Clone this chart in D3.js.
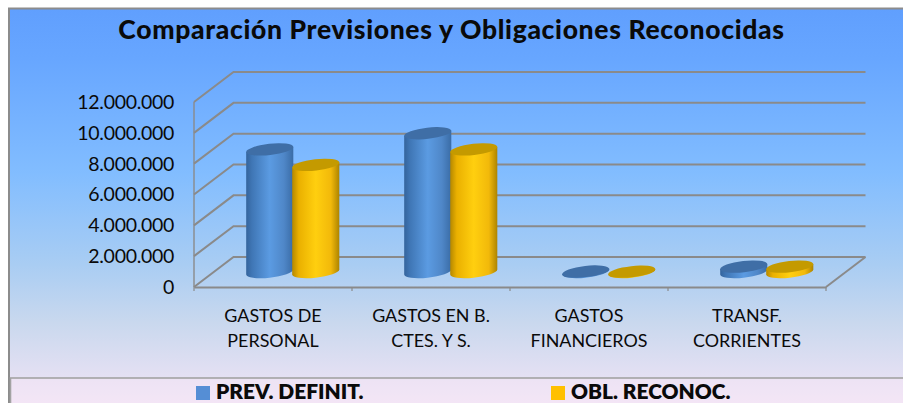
<!DOCTYPE html>
<html>
<head>
<meta charset="utf-8">
<script src="https://cdnjs.cloudflare.com/ajax/libs/d3/7.8.5/d3.min.js"></script>
<style>
  html, body { margin: 0; padding: 0; background: #fff; overflow: hidden; }
  svg { display: block; }
  text { font-family: Lato, "Open Sans", sans-serif; fill: #0a0a0a; }
</style>
</head>
<body>
<div id="chart"></div>
<script>
const categories = ["GASTOS DE\nPERSONAL", "GASTOS EN B.\nCTES. Y S.", "GASTOS\nFINANCIEROS", "TRANSF.\nCORRIENTES"];
const seriesNames = ["PREV. DEFINIT.", "OBL. RECONOC."];
const prevDefinit = [7950000, 9000000, 30000, 350000];
const oblReconoc = [6950000, 7950000, 20000, 350000];
const yTicks = [0, 2000000, 4000000, 6000000, 8000000, 10000000, 12000000];

const width = 903;
const height = 403;
const depth = { x: 39.5, y: -30 };

const svg = d3.select("#chart").append("svg")
  .attr("width", width)
  .attr("height", height)
  .attr("viewBox", [0, 0, width, height]);

const defs = svg.append("defs");

const bg = defs.append("linearGradient")
  .attr("id", "bg")
  .attr("x1", 0).attr("x2", 0).attr("y1", 0).attr("y2", 1);
[[0, "#609ffe"], [0.12, "#67a6ff"], [0.4, "#82bdff"], [0.62, "#a9cdf3"], [0.76, "#c9d8ee"], [0.92, "#eae2f4"], [1, "#fae6f8"]]
  .forEach(s => bg.append("stop").attr("offset", s[0]).attr("stop-color", s[1]));

function sideGradient(id, stops) {
  const g = defs.append("linearGradient").attr("id", id);
  stops.forEach(s => g.append("stop").attr("offset", s[0]).attr("stop-color", s[1]));
}
sideGradient("cyl0", [[0, "#34649c"], [0.12, "#3f76b5"], [0.5, "#5b9be2"], [0.8, "#4f87c8"], [1, "#3a6ca6"]]);
sideGradient("cyl1", [[0, "#b58800"], [0.14, "#eab000"], [0.5, "#ffcf0f"], [0.82, "#f2b90a"], [1, "#ad8400"]]);
const topColor = ["#3f6ea6", "#c49a00"];
const legendColor = ["#558ed5", "#ffc000"];

// chart frame
svg.append("rect")
  .attr("x", 9).attr("y", 8.5)
  .attr("width", width + 10).attr("height", height + 10)
  .attr("fill", "url(#bg)")
  .attr("stroke", "#8c8c8c")
  .attr("stroke-width", 2);

const x = d3.scaleBand()
  .domain(categories)
  .range([194, 826]);

const x1 = d3.scaleBand()
  .domain(seriesNames)
  .range([-46, 46]);

const y = d3.scaleLinear()
  .domain([0, 12000000])
  .range([287, 102]);

const grid = svg.append("g")
  .attr("fill", "none")
  .attr("stroke", "#8a8a8a");

// back wall and side wall lines
yTicks.forEach(t => {
  grid.append("path")
    .attr("stroke-width", 2)
    .attr("d", d3.line()([
      [x.range()[0], y(t)],
      [x.range()[0] + depth.x, y(t) + depth.y],
      [x.range()[1] + depth.x, y(t) + depth.y]
    ]));
});
grid.append("path")
  .attr("stroke-width", 2)
  .attr("d", d3.line()([
    [x.range()[1], y(0)],
    [x.range()[1] + depth.x, y(0) + depth.y]
  ]));
grid.append("path")
  .attr("stroke-width", 1.4)
  .attr("d", d3.line()([[x.range()[0], y(0)], [x.range()[0], y(12000000)]]));

// x axis, ticks sit on the band edges
const xAxis = svg.append("g")
  .attr("transform", `translate(0,${y(0)})`)
  .call(d3.axisBottom(x).tickSize(0).tickPadding(0));
xAxis.select(".domain").attr("stroke", "#8a8a8a").attr("stroke-width", 2);
xAxis.selectAll(".tick text").remove();
d3.range(categories.length + 1).forEach(i => {
  const tx = x.range()[0] + i * x.bandwidth();
  xAxis.append("line")
    .attr("x1", tx).attr("x2", tx)
    .attr("y1", 0).attr("y2", 4)
    .attr("stroke", "#8a8a8a")
    .attr("stroke-width", 1.2);
});

xAxis.selectAll(".tick").append("text")
  .attr("text-anchor", "middle")
  .attr("font-size", 17.9)
  .attr("fill", "#0a0a0a")
  .selectAll("tspan")
  .data(d => d.split("\n"))
  .join("tspan")
  .attr("x", 0)
  .attr("y", (d, i) => 34.5 + i * 25.5)
  .text(d => d);

// y axis
const esFormat = d3.formatLocale({ decimal: ",", thousands: ".", grouping: [3], currency: ["", ""] }).format(",d");
const yAxis = svg.append("g")
  .attr("transform", "translate(194,0)")
  .call(d3.axisLeft(y).tickValues(yTicks).tickFormat(esFormat).tickSize(0).tickPadding(20));
yAxis.select(".domain").remove();
yAxis.selectAll("text")
  .attr("font-size", 19.5)
  .attr("letter-spacing", -0.3)
  .attr("fill", "#0a0a0a")
  .attr("dy", "0.33em");

// cylinders
const rx = 23.7;
const ry = 5.6;
const tilt = -6.5;
const rad = tilt * Math.PI / 180;
const halfW = Math.sqrt(rx * rx * Math.cos(rad) ** 2 + ry * ry * Math.sin(rad) ** 2);
const edgeY = (rx * rx - ry * ry) * Math.sin(-rad) * Math.cos(rad) / halfW;

const series = [prevDefinit, oblReconoc];
seriesNames.forEach((name, s) => {
  const g = svg.append("g");
  categories.forEach((cat, i) => {
    const cx = x(cat) + x.bandwidth() / 2 + depth.x / 2 + x1(name) + x1.bandwidth() / 2;
    const y0 = y(0) + depth.y / 2;
    const y1 = y(series[s][i]) + depth.y / 2;
    g.append("path")
      .attr("fill", `url(#cyl${s})`)
      .attr("d", `M${cx - halfW},${y1 + edgeY}L${cx - halfW},${y0 + edgeY}`
        + `A${rx},${ry} ${tilt} 0 0 ${cx + halfW},${y0 - edgeY}`
        + `L${cx + halfW},${y1 - edgeY}Z`);
    g.append("ellipse")
      .attr("rx", rx)
      .attr("ry", ry)
      .attr("transform", `translate(${cx},${y1}) rotate(${tilt})`)
      .attr("fill", topColor[s]);
  });
});

// title
svg.append("text")
  .attr("x", 451.5)
  .attr("y", 39)
  .attr("text-anchor", "middle")
  .attr("font-size", 26.5)
  .attr("font-weight", 900)
  .attr("letter-spacing", 0.66)
  .text("Comparación Previsiones y Obligaciones Reconocidas");

// legend strip
svg.append("rect")
  .attr("x", 10.5).attr("y", 378)
  .attr("width", width).attr("height", 30)
  .attr("fill", "#f6e6f7")
  .attr("fill-opacity", 0.45)
  .attr("stroke", "#a3a3a3")
  .attr("stroke-width", 1.6);

const legendX = d3.scaleOrdinal().domain(seriesNames).range([196, 551]);
const legend = svg.selectAll(".legend")
  .data(seriesNames)
  .join("g")
  .attr("class", "legend")
  .attr("transform", d => `translate(${legendX(d)},386)`);
legend.append("rect")
  .attr("width", 14).attr("height", 14)
  .attr("fill", (d, i) => legendColor[i]);
legend.append("text")
  .attr("x", 20)
  .attr("y", 12.8)
  .attr("font-size", 20.9)
  .attr("font-weight", 800)
  .text(d => d);
</script>
</body>
</html>
